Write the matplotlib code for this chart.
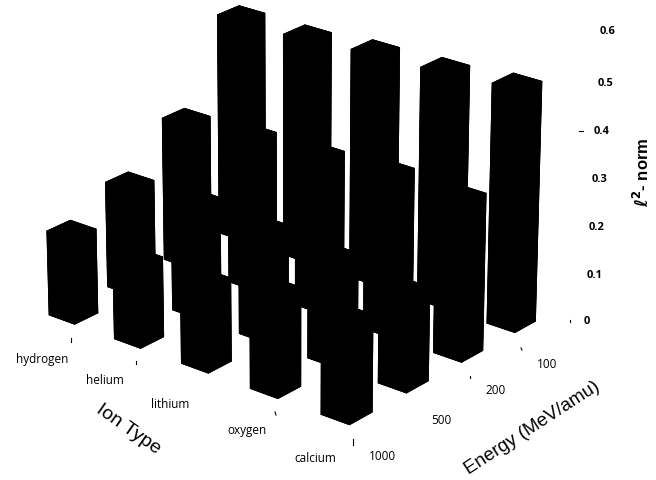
import numpy as np
import matplotlib
matplotlib.use("Agg")
import matplotlib.pyplot as plt
from matplotlib.lines import Line2D

ions = ["hydrogen", "helium", "lithium", "oxygen", "calcium"]
energies = ["1000", "500", "200", "100"]
z_ticks = [0, 0.1, 0.2, 0.3, 0.4, 0.5, 0.6]
e1000 = [0.175, 0.165, 0.17, 0.20, 0.195]
e500 = [0.22, 0.23, 0.22, 0.21, 0.19]
e200 = [0.30, 0.31, 0.315, 0.325, 0.32]
e100 = [0.465, 0.465, 0.475, 0.48, 0.49]
rows = [e1000, e500, e200, e100]

W, H = 656, 481
fig = plt.figure(figsize=(W / 100, H / 100), dpi=100)
ax = fig.add_axes([-0.015, 0.125, 0.9, 1.0], projection="3d")
ax.set_proj_type("persp", focal_length=1.5)
ax.view_init(elev=23, azim=-50.6)
w = 0.395
for j, row in enumerate(rows):
    for i, v in enumerate(row):
        bar = ax.bar3d(i - w / 2, j - w / 2, 0, w, w, v, color="black", shade=False,
                       edgecolor="black", linewidth=0.5)
        bar.set_clip_on(False)
ax.set_xlim(-0.5, 4.5)
ax.set_ylim(-0.5, 3.5)
ax.set_zlim(0, 0.6)
ax.set_box_aspect((5, 4, 3.6), zoom=1.32)
ax.set_axis_off()

def t(x, y, s, **k):
    fig.text(x / W, 1 - y / H, s, ha="center", va="center", **k)

pos_ion = [(42, 360), (105, 381), (170, 405), (247, 431), (315, 459)]
for (x, y), s in zip(pos_ion, ions):
    t(x, y, s, fontsize=8.5, family="Open Sans")
pos_en = [(382, 456), (441, 421), (496, 391), (547, 364)]
for (x, y), s in zip(pos_en, energies):
    t(x, y, s, fontsize=8.5, family="Open Sans")
pos_z = [(587, 322), (595, 276), (597, 228), (600, 180), (602, 132), (606, 83), (608, 32)]
for (x, y), v in zip(pos_z, z_ticks):
    t(x, y, f"{v:g}", fontsize=8, family="Open Sans", fontweight="bold")
t(128, 429, "Ion Type", fontsize=14, rotation=-35, family="Liberation Sans")
t(532, 428, "Energy (MeV/amu)", fontsize=13.5, rotation=33, family="Liberation Sans")
t(641, 172, r"$\mathbf{\ell^2}$- norm", fontsize=12, rotation=90, family="Liberation Sans", fontweight="bold")

for x0, y0, x1, y1 in [(71, 339, 71, 343), (136, 362, 136, 365), (275, 413, 276, 416), (353, 440, 353, 446),
                       (521, 349, 522, 351), (470, 377, 470, 379), (570, 321, 570, 323), (579, 132, 583, 132)]:
    fig.add_artist(Line2D([x0 / W, x1 / W], [1 - y0 / H, 1 - y1 / H], color="black", lw=0.8))
fig.savefig("out.png", dpi=100)
